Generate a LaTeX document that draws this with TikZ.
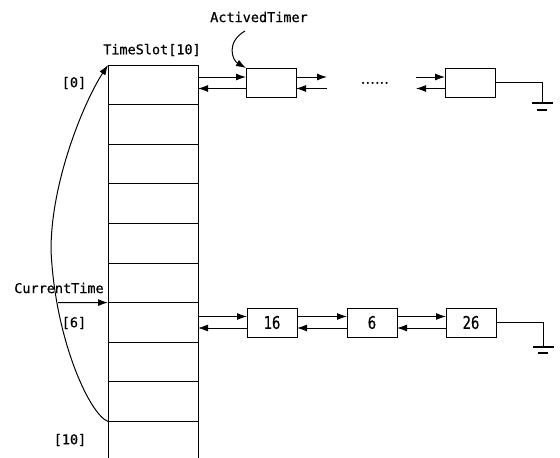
\documentclass[tikz,border=0pt]{standalone}
\usepackage{fontspec}
\newfontfamily\lblfont[FakeBold=0.6]{DejaVu Sans Mono}
\newfontfamily\numfont[FakeStretch=0.8,FakeBold=0.5]{DejaVu Sans Mono}
\usetikzlibrary{calc,positioning,arrows.meta}

\begin{document}
\begin{tikzpicture}[x=1pt,y=-1pt,line width=1pt,
  slot/.style={draw,minimum width=90pt,minimum height=39.6pt,inner sep=0pt,outer sep=0pt},
  timer/.style={draw,minimum width=50pt,minimum height=29pt,inner sep=0pt,outer sep=0pt,font=\numfont\fontsize{17.5}{17.5}\selectfont},
  lbl/.style={inner sep=0pt,font=\lblfont\fontsize{13.5}{14}\selectfont},
  ptr/.style={-{Latex[length=10pt,width=7pt]}},
  gnd/.style={line width=1.6pt}]
     \useasboundingbox (0,0) rectangle (560,458);
     \node at (153,84.8)[slot](s0){};
     \node[slot,below=0pt of s0](s1){};
     \node[slot,below=0pt of s1](s2){};
     \node[slot,below=0pt of s2](s3){};
     \node[slot,below=0pt of s3](s4){};
     \node[slot,below=0pt of s4](s5){};
     \node[slot,below=0pt of s5](s6){};
     \node[slot,below=0pt of s6](s7){};
     \node[slot,below=0pt of s7](s8){};
     \node[slot,below=0pt of s8](s9){};
     \node at (152,50)[lbl](slots){TimeSlot[10]};
     \node at (74,83)[lbl](idx0){[0]};
     \node at (74,323)[lbl](idx6){[6]};
     \node at (70,440)[lbl](idx10){[10]};
     \node at (59,288)[lbl](cur){CurrentTime};
     \node at (259,17)[lbl](act){ActivedTimer};
     \node at (271,82.5)[timer](t1){};
     \node at (470,82.5)[timer](tn){};
     \node at (375,83)[inner sep=0pt,font=\bfseries\fontsize{15}{15}\selectfont](dots){......};
     \node at (272,322.5)[timer](b16){16};
     \node[timer,right=50pt of b16](b6){6};
     \node[timer,right=49pt of b6](b26){26};
     \coordinate (gapl) at (327,82.5);
     \coordinate (gapr) at (416,82.5);
     \coordinate (g1) at (542,103);
     \coordinate (g2) at (543,347);
     \coordinate (curl) at (58,302.6);
     \coordinate (actl) at (245,31);
     \draw[ptr](s9.north west) .. controls (90,415) and (55,340) .. (51,250)
        .. controls (51,180) and (85,100) .. (s0.north west);
     \draw[ptr](curl)--(s6.north west);
     \draw[ptr](actl) .. controls (226,42) and (232,60) .. (t1.north west);
     \draw[ptr]([yshift=5.5pt]t1.west -| s0.east)--([yshift=5.5pt]t1.west);
     \draw[ptr]([yshift=-6pt]t1.west)--([yshift=-6pt]t1.west -| s0.east);
     \draw[ptr]([yshift=5.5pt]t1.east)--([yshift=5.5pt]gapl);
     \draw[ptr]([yshift=-6pt]gapl)--([yshift=-6pt]t1.east);
     \draw[ptr]([yshift=5.5pt]gapr)--([yshift=5.5pt]tn.west);
     \draw[ptr]([yshift=-6pt]tn.west)--([yshift=-6pt]gapr);
     \draw[ptr]([yshift=6pt]b16.west -| s6.east)--([yshift=6pt]b16.west);
     \draw[ptr]([yshift=-5.5pt]b16.west)--([yshift=-5.5pt]b16.west -| s6.east);
     \draw[ptr]([yshift=6pt]b16.east)--([yshift=6pt]b6.west);
     \draw[ptr]([yshift=-5.5pt]b6.west)--([yshift=-5.5pt]b16.east);
     \draw[ptr]([yshift=6pt]b6.east)--([yshift=6pt]b26.west);
     \draw[ptr]([yshift=-5.5pt]b26.west)--([yshift=-5.5pt]b6.east);
     \draw(tn.east)-|(g1);
     \draw[gnd]([xshift=-10pt]g1)--([xshift=11pt]g1);
     \draw[gnd]([xshift=-5pt,yshift=-7pt]g1)--([xshift=5pt,yshift=-7pt]g1);
     \draw(b26.east)-|(g2);
     \draw[gnd]([xshift=-10pt]g2)--([xshift=11pt]g2);
     \draw[gnd]([xshift=-5pt,yshift=-6pt]g2)--([xshift=5pt,yshift=-6pt]g2);
\end{tikzpicture}
\end{document}
